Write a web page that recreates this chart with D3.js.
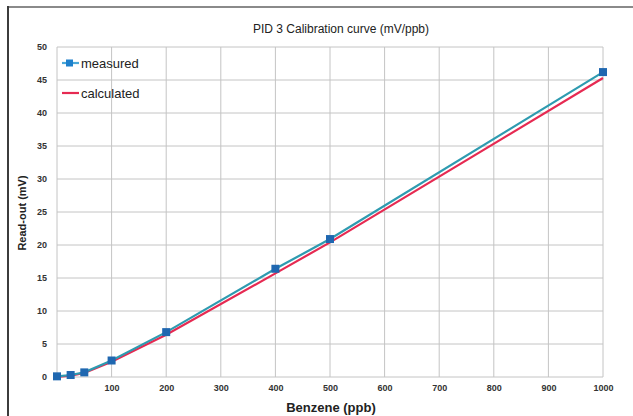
<!DOCTYPE html>
<html>
<head>
<meta charset="utf-8">
<script src="https://cdn.jsdelivr.net/npm/d3@7"></script>
<style>
  html, body { margin: 0; padding: 0; background: #ffffff; }
  svg { display: block; font-family: "Liberation Sans", Arial, sans-serif; }
</style>
</head>
<body>
<svg id="chart" width="633" height="416"></svg>
<script>
// Benzene concentrations (ppb) and the PID read-out (mV)
const concentrations = [0, 25, 50, 100, 200, 400, 500, 1000];
const measured       = [0.1, 0.3, 0.7, 2.5, 6.8, 16.4, 20.9, 46.2];
const calculated     = [0.0, 0.2, 0.6, 2.3, 6.4, 15.7, 20.4, 45.3];

const xTicks = [100, 200, 300, 400, 500, 600, 700, 800, 900, 1000];
const xGrid  = [0, 100, 200, 300, 400, 500, 600, 700, 800, 900, 1000];
const yTicks = [0, 5, 10, 15, 20, 25, 30, 35, 40, 45, 50];

const titleText  = "PID 3 Calibration curve (mV/ppb)";
const xTitleText = "Benzene (ppb)";
const yTitleText = "Read-out (mV)";
const seriesNames = ["measured", "calculated"];

const svg = d3.select("#chart");
const W = 633, H = 416;
const plot = { left: 57, right: 603, top: 47, bottom: 377 };

const x = d3.scaleLinear().domain([0, 1000]).range([plot.left, plot.right]);
const y = d3.scaleLinear().domain([0, 50]).range([plot.bottom, plot.top]);

// outer frame
svg.append("rect").attr("x", 0).attr("y", 0).attr("width", W).attr("height", H).attr("fill", "#ffffff");
svg.append("line").attr("x1", 7).attr("x2", W).attr("y1", 7).attr("y2", 7)
  .attr("stroke", "#8a8a8a").attr("stroke-width", 2);
svg.append("line").attr("x1", 8).attr("x2", 8).attr("y1", 6).attr("y2", H)
  .attr("stroke", "#3c3c3c").attr("stroke-width", 2);

// title
svg.append("text").attr("x", 341).attr("y", 33).attr("text-anchor", "middle")
  .attr("font-size", 12).attr("fill", "#222").text(titleText);

// grid
const g = svg.append("g");
g.selectAll(".vgrid").data(xGrid).join("line")
  .attr("x1", d => x(d)).attr("x2", d => x(d))
  .attr("y1", plot.top).attr("y2", plot.bottom)
  .attr("stroke", "#c4c4c4").attr("stroke-width", 1);
g.selectAll(".hgrid").data(yTicks).join("line")
  .attr("x1", plot.left).attr("x2", plot.right)
  .attr("y1", d => y(d)).attr("y2", d => y(d))
  .attr("stroke", "#c4c4c4").attr("stroke-width", 1);

// axes (labels only, gridlines act as the axis lines)
const xAxis = d3.axisBottom(x).tickValues(xTicks).tickFormat(d3.format("d"))
  .tickSize(0).tickPadding(8);
const xa = svg.append("g").attr("transform", `translate(0,${plot.bottom})`).call(xAxis);
xa.select(".domain").remove();
xa.selectAll("text").attr("font-size", 9).attr("font-weight", "bold").attr("fill", "#333")
  .attr("font-family", "'Liberation Sans', Arial, sans-serif");

const yAxis = d3.axisLeft(y).tickValues(yTicks).tickFormat(d3.format("d"))
  .tickSize(0).tickPadding(10);
const ya = svg.append("g").attr("transform", `translate(${plot.left},0)`).call(yAxis);
ya.select(".domain").remove();
ya.selectAll("text").attr("font-size", 9).attr("font-weight", "bold").attr("fill", "#333")
  .attr("font-family", "'Liberation Sans', Arial, sans-serif");

// axis titles
svg.append("text").attr("x", 331).attr("y", 412).attr("text-anchor", "middle")
  .attr("font-size", 13).attr("font-weight", "bold").attr("fill", "#222").text(xTitleText);
svg.append("text").attr("transform", "translate(26,213) rotate(-90)").attr("text-anchor", "middle")
  .attr("font-size", 11).attr("font-weight", "bold").attr("fill", "#222").text(yTitleText);

// series lines
const line = d3.line().x((d, i) => x(concentrations[i])).y(d => y(d));
svg.append("path").datum(calculated).attr("d", line)
  .attr("fill", "none").attr("stroke", "#e62a52").attr("stroke-width", 2.2);
svg.append("path").datum(measured).attr("d", line)
  .attr("fill", "none").attr("stroke", "#2e9bb0").attr("stroke-width", 2.2);

// measured points
svg.selectAll(".pt").data(measured).join("rect")
  .attr("x", (d, i) => x(concentrations[i]) - 4)
  .attr("y", d => y(d) - 4)
  .attr("width", 8).attr("height", 8)
  .attr("fill", "#1f67b0");

// legend
const lg = svg.append("g");
lg.append("line").attr("x1", 62).attr("x2", 79).attr("y1", 63).attr("y2", 63)
  .attr("stroke", "#4aa8d8").attr("stroke-width", 2.2);
lg.append("rect").attr("x", 66).attr("y", 59.5).attr("width", 7).attr("height", 7).attr("fill", "#1e80cc");
lg.append("text").attr("x", 81).attr("y", 67.5).attr("font-size", 13).attr("fill", "#222").text(seriesNames[0]);
lg.append("line").attr("x1", 62).attr("x2", 79).attr("y1", 93).attr("y2", 93)
  .attr("stroke", "#e62a52").attr("stroke-width", 2.2);
lg.append("text").attr("x", 81).attr("y", 97.5).attr("font-size", 13).attr("fill", "#222").text(seriesNames[1]);
</script>
</body>
</html>
